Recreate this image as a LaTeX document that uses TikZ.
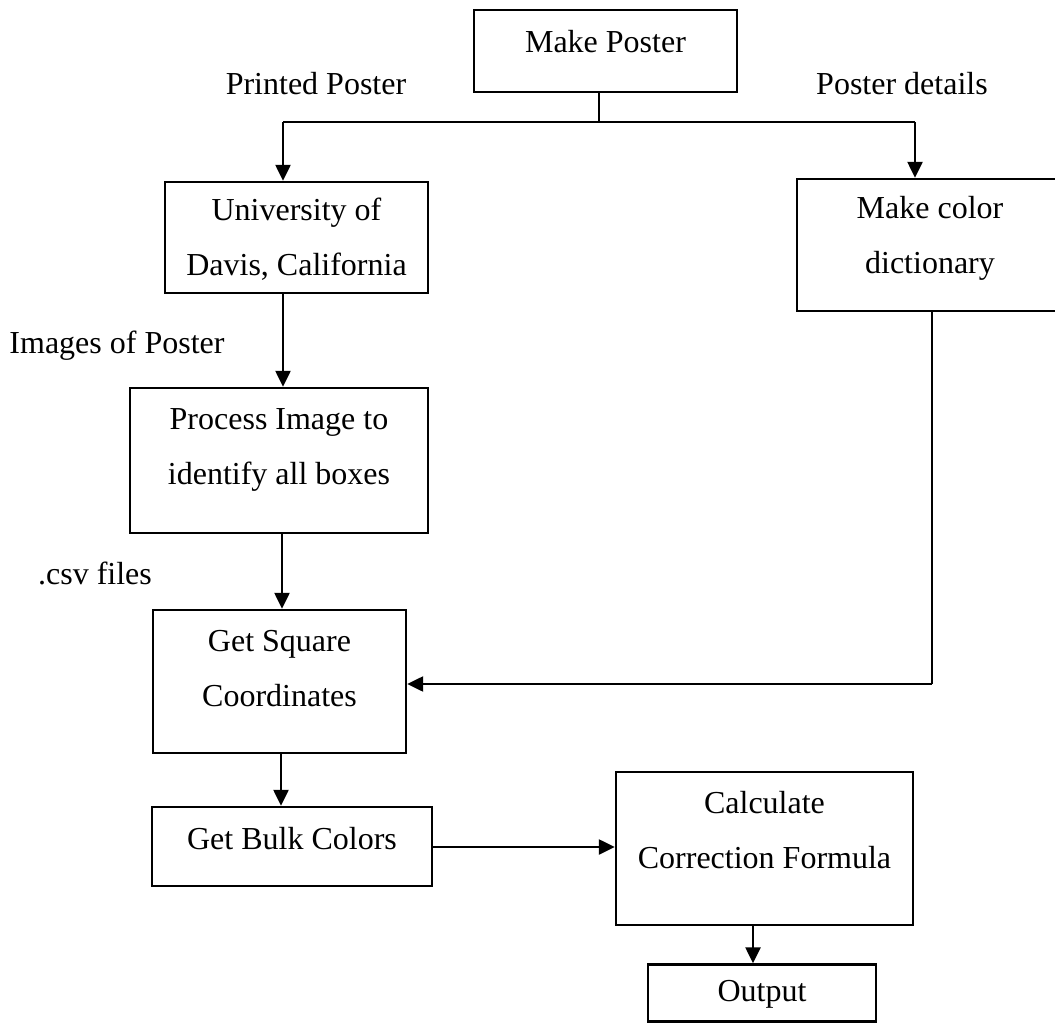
\documentclass[tikz,border=0pt]{standalone}
\usepackage{fontspec}
\setmainfont{Liberation Serif}
\usetikzlibrary{arrows.meta}
\begin{document}
\begin{tikzpicture}[x=1pt,y=-1pt,
  box/.style={draw,line width=2.4pt,rectangle,inner sep=0pt,anchor=center},
  txt/.style={inner sep=0pt,anchor=base,align=center,font=\fontsize{32}{55}\selectfont},
  conn/.style={line width=2.4pt},
  arr/.style={line width=2.4pt,-{Triangle[width=15pt,length=16pt]}}]
\useasboundingbox (0,0) rectangle (1055,1024);
\clip (0,0) rectangle (1055,1024);
% boxes
\node[box,minimum width=263pt,minimum height=82pt] (mp) at (605.5,51) {};
\node[box,minimum width=263pt,minimum height=111pt] (univ) at (296.5,237.5) {};
\node[box,minimum width=266pt,minimum height=132pt] (mcd) at (930,245) {};
\node[box,minimum width=298pt,minimum height=145pt] (proc) at (279,460.5) {};
\node[box,minimum width=253pt,minimum height=143pt] (gs) at (279.5,681.5) {};
\node[box,minimum width=280pt,minimum height=79pt] (gb) at (292,846.5) {};
\node[box,minimum width=297pt,minimum height=153pt] (calc) at (764.5,848.5) {};
\node[box,minimum width=228pt,minimum height=57pt] (out) at (762,993) {};
% texts (anchor = baseline of last line)
\node[txt] (tmp) at (605.5,53) {Make Poster};
\node[txt] (tuniv) at (296.5,276) {University of\\Davis, California};
\node[txt] (tmcd) at (930,274) {Make color\\dictionary};
\node[txt] (tproc) at (279,484) {Process Image to\\identify all boxes};
\node[txt] (tgs) at (279.5,706) {Get Square\\Coordinates};
\node[txt] (tgb) at (292,849) {Get Bulk Colors};
\node[txt] (tcalc) at (764.5,868) {Calculate\\Correction Formula};
\node[txt] (tout) at (762,1001) {Output};
% edge labels
\node[txt] (lprinted) at (316,95) {Printed Poster};
\node[txt] (ldetails) at (902,95) {Poster details};
\node[txt] (limages) at (117,353) {Images of Poster};
\node[txt] (lcsv) at (95,584) {.csv files};
% coordinates
\coordinate (bus) at (599,122);
\coordinate (lx) at (283,0);
\coordinate (rx) at (915,0);
\coordinate (vx) at (932,0);
\coordinate (hy) at (0,684);
\coordinate (ox) at (753,0);
\coordinate (ay) at (0,847);
% connectors
\draw[conn] (mp.south -| bus) -- (bus);
\draw[conn] (lx |- bus) -- (rx |- bus);
\draw[arr] (lx |- bus) -- (lx |- univ.north);
\draw[arr] (rx |- bus) -- (rx |- mcd.north);
\draw[arr] (lx |- univ.south) -- (lx |- proc.north);
\draw[arr] (282,0 |- proc.south) -- (282,0 |- gs.north);
\draw[arr] (281,0 |- gs.south) -- (281,0 |- gb.north);
\draw[conn] (vx |- mcd.south) -- (vx |- hy);
\draw[arr] (vx |- hy) -- (gs.east |- hy);
\draw[arr] (gb.east |- ay) -- (calc.west |- ay);
\draw[arr] (ox |- calc.south) -- (ox |- out.north);
\end{tikzpicture}
\end{document}
